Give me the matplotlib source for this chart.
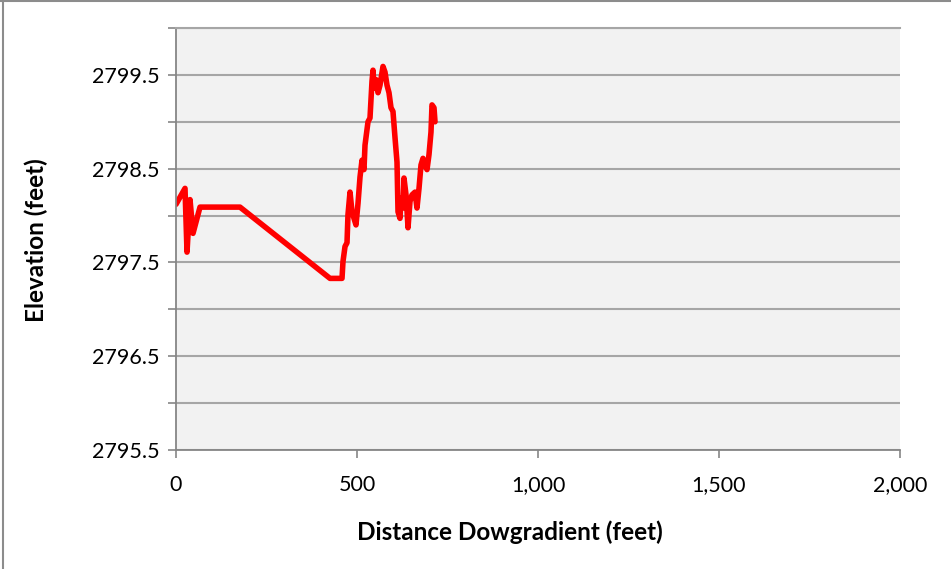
import matplotlib
matplotlib.use("Agg")
import matplotlib.pyplot as plt
from matplotlib.lines import Line2D
from matplotlib.ticker import FuncFormatter

# Data
distance_ft = [0, 24.9, 30.4, 38.7, 47.0, 66.3, 176.8, 425.4, 458.6, 461.3,
               466.9, 472.4, 475.1, 480.7, 486.2, 497.2, 502.8, 508.3, 513.8, 519.3,
               522.1, 530.4, 535.9, 541.4, 544.2, 547.0, 552.5, 558.0, 563.5, 571.8,
               577.3, 582.9, 588.4, 593.9, 599.4, 605.0, 610.5, 613.3, 618.8, 621.5,
               627.1, 629.8, 635.4, 638.1, 640.9, 646.4, 651.9, 660.2, 665.7, 671.3,
               676.8, 682.3, 687.8, 693.4, 698.9, 704.4, 707.2, 712.7, 715.5]
elevation_ft = [2798.12, 2798.29, 2797.61, 2798.17, 2797.81, 2798.09, 2798.09, 2797.33, 2797.33, 2797.51,
                2797.67, 2797.71, 2798.01, 2798.25, 2798.04, 2797.90, 2798.13, 2798.41, 2798.59, 2798.49,
                2798.75, 2799.00, 2799.04, 2799.43, 2799.55, 2799.36, 2799.45, 2799.31, 2799.39, 2799.59,
                2799.53, 2799.39, 2799.31, 2799.15, 2799.11, 2798.83, 2798.57, 2798.04, 2797.97, 2798.19,
                2798.08, 2798.40, 2798.22, 2798.06, 2797.87, 2798.15, 2798.22, 2798.25, 2798.08, 2798.29,
                2798.54, 2798.61, 2798.54, 2798.49, 2798.65, 2798.89, 2799.18, 2799.15, 2799.00]

x_ticks = [0, 500, 1000, 1500, 2000]
y_ticks = [2795.5, 2796.0, 2796.5, 2797.0, 2797.5, 2798.0, 2798.5, 2799.0, 2799.5, 2800.0]
y_labels = [2795.5, 2796.5, 2797.5, 2798.5, 2799.5]

plt.rcParams['font.family'] = ['Lato', 'DejaVu Sans']

fig = plt.figure(figsize=(9.51, 5.69), dpi=100)
fig.patch.set_facecolor('white')
ax = fig.add_axes([176/951, (569-450)/569, (900-176)/951, (450-28)/569])
ax.set_facecolor('#F2F2F2')

ax.set_xlim(0, 2000)
ax.set_ylim(2795.5, 2800.0)

ax.set_yticks(y_ticks)
ax.set_yticklabels([f"{v:.1f}" if v in y_labels else "" for v in y_ticks])
ax.set_xticks(x_ticks)
ax.xaxis.set_major_formatter(FuncFormatter(lambda v, p: f"{int(v):,}"))

ax.grid(axis='y', color='#A6A6A6', linewidth=1.5)
ax.set_axisbelow(True)
ax.spines['right'].set_visible(False)
ax.spines['top'].set_color('#A6A6A6')
ax.spines['top'].set_linewidth(1.5)
ax.spines['left'].set_color('#868686')
ax.spines['bottom'].set_color('#868686')
ax.spines['left'].set_linewidth(1.3)
ax.spines['bottom'].set_linewidth(1.3)
ax.tick_params(axis='both', direction='out', length=6, width=1.2, color='#868686',
               labelsize=15.5, labelcolor='black')
ax.tick_params(axis='x', pad=12)
ax.tick_params(axis='y', pad=6)

ax.plot(distance_ft, elevation_ft, color='#FF0000', linewidth=4.0,
        solid_joinstyle='round', solid_capstyle='round')

fig.text(510/951, 1-532/569, 'Distance Dowgradient (feet)', ha='center', va='center',
         fontsize=17.5, fontweight='bold')
fig.text(36/951, 1-240/569, 'Elevation (feet)', ha='center', va='center', rotation=90,
         fontsize=17.5, fontweight='bold')

# chart frame: only left and top edges visible in the reference
fig.add_artist(Line2D([2.5/951, 2.5/951], [0, 1], transform=fig.transFigure,
                      color='#8C8C8C', linewidth=1.5))
fig.add_artist(Line2D([0, 1], [1 - 1/569, 1 - 1/569], transform=fig.transFigure,
                      color='#8C8C8C', linewidth=1.5))

fig.savefig('out.png', dpi=100)
